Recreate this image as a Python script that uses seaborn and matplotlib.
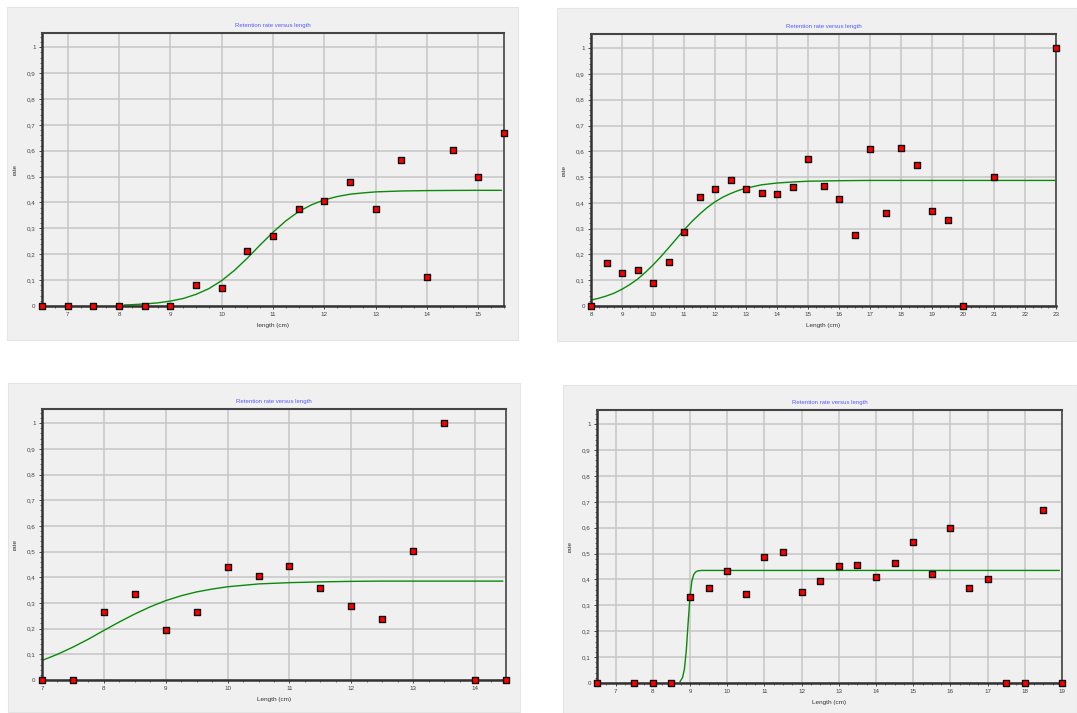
import math
import matplotlib
matplotlib.use("Agg")
import matplotlib.pyplot as plt
import seaborn as sns
from matplotlib.patches import Rectangle
from matplotlib.path import Path
from matplotlib.ticker import MultipleLocator, FuncFormatter, FixedLocator

sns.set_style("ticks")
plt.rcParams['font.family'] = ['Liberation Sans', 'DejaVu Sans']

TITLE = "Retention rate versus length"

# ---------------- Panel 1 (top-left) ----------------
p1_len = [6.5, 7, 7.5, 8, 8.5, 9, 9.5, 10, 10.5, 11, 11.5, 12, 12.5, 13, 13.5, 14, 14.5, 15, 15.5]
p1_rate = [0, 0, 0, 0, 0, 0, 0.080, 0.071, 0.214, 0.269, 0.376, 0.404, 0.481, 0.373,
           0.566, 0.112, 0.601, 0.500, 0.668]
p1_fit_len = [8.1, 8.25, 8.5, 8.75, 9.0, 9.25, 9.5, 9.75, 10.0, 10.25, 10.5, 10.75, 11.0,
              11.25, 11.5, 11.75, 12.0, 12.25, 12.5, 12.75, 13.0, 13.5, 14.0, 14.5, 15.0, 15.45]
p1_fit_rate = [0.004, 0.005, 0.008, 0.012, 0.019, 0.029, 0.045, 0.067, 0.098, 0.138, 0.185,
               0.236, 0.285, 0.329, 0.365, 0.391, 0.410, 0.423, 0.432, 0.437, 0.441, 0.4445,
               0.446, 0.4466, 0.447, 0.447]
p1_xlabel = "length (cm)"

# ---------------- Panel 2 (top-right) ----------------
p2_len = [8, 8.5, 9, 9.5, 10, 10.5, 11, 11.5, 12, 12.5, 13, 13.5, 14, 14.5, 15, 15.5, 16,
          16.5, 17, 17.5, 18, 18.5, 19, 19.5, 20, 21, 23]
p2_rate = [0, 0.168, 0.129, 0.141, 0.090, 0.172, 0.286, 0.424, 0.452, 0.490, 0.455, 0.437,
           0.434, 0.463, 0.572, 0.465, 0.416, 0.275, 0.609, 0.359, 0.614, 0.547, 0.367,
           0.335, 0, 0.501, 1.0]
p2_fit_len = [8.0, 8.25, 8.5, 8.75, 9.0, 9.25, 9.5, 9.75, 10.0, 10.25, 10.5, 10.75, 11.0,
              11.25, 11.5, 11.75, 12.0, 12.25, 12.5, 12.75, 13.0, 13.5, 14.0, 14.5, 15.0,
              16.0, 17.0, 22.96]
p2_fit_rate = [0.023, 0.030, 0.039, 0.050, 0.065, 0.083, 0.104, 0.130, 0.159, 0.191, 0.225,
               0.260, 0.295, 0.327, 0.356, 0.382, 0.404, 0.422, 0.436, 0.448, 0.457, 0.470,
               0.477, 0.481, 0.484, 0.486, 0.487, 0.487]
p2_xlabel = "Length (cm)"

# ---------------- Panel 3 (bottom-left) ----------------
p3_len = [7, 7.5, 8, 8.5, 9, 9.5, 10, 10.5, 11, 11.5, 12, 12.5, 13, 13.5, 14, 14.5]
p3_rate = [0, 0, 0.266, 0.335, 0.194, 0.266, 0.438, 0.404, 0.444, 0.358, 0.287, 0.238,
           0.501, 1.0, 0, 0]
p3_fit_len = [7.0, 7.25, 7.5, 7.75, 8.0, 8.25, 8.5, 8.75, 9.0, 9.25, 9.5, 9.75, 10.0, 10.5,
              11.0, 11.5, 12.0, 12.5, 14.45]
p3_fit_rate = [0.076, 0.100, 0.128, 0.159, 0.193, 0.226, 0.257, 0.285, 0.309, 0.328, 0.343,
               0.354, 0.363, 0.374, 0.379, 0.382, 0.384, 0.385, 0.385]
p3_xlabel = "Length (cm)"

# ---------------- Panel 4 (bottom-right) ----------------
p4_len = [6.5, 7.5, 8, 8.5, 9, 9.5, 10, 10.5, 11, 11.5, 12, 12.5, 13, 13.5, 14, 14.5, 15,
          15.5, 16, 16.5, 17, 17.5, 18, 18.5, 19]
p4_rate = [0, 0, 0, 0, 0.334, 0.369, 0.431, 0.343, 0.486, 0.505, 0.352, 0.395, 0.452, 0.457,
           0.410, 0.463, 0.546, 0.422, 0.600, 0.366, 0.403, 0, 0, 0.668, 0]
p4_fit_len = [8.73, 8.8, 8.85, 8.9, 8.95, 9.0, 9.05, 9.1, 9.15, 9.2, 9.3, 18.93]
p4_fit_rate = [0.005, 0.021, 0.054, 0.125, 0.233, 0.334, 0.394, 0.419, 0.429, 0.433, 0.435,
               0.435]
p4_xlabel = "Length (cm)"

W, H = 1077, 713
fig = plt.figure(figsize=(W / 100, H / 100), dpi=100, facecolor="white")

panels = [
    dict(bg=(7, 7, 518, 340), ax=(42, 33, 504, 306), xlim=(6.5, 15.5),
         x=p1_len, y=p1_rate, fx=p1_fit_len, fy=p1_fit_rate, xlabel=p1_xlabel),
    dict(bg=(557, 8, 1077, 341), ax=(591, 34, 1056, 306), xlim=(8, 23),
         x=p2_len, y=p2_rate, fx=p2_fit_len, fy=p2_fit_rate, xlabel=p2_xlabel),
    dict(bg=(8, 383, 520, 712), ax=(42, 409, 506, 680), xlim=(7, 14.5),
         x=p3_len, y=p3_rate, fx=p3_fit_len, fy=p3_fit_rate, xlabel=p3_xlabel),
    dict(bg=(563, 385, 1077, 713), ax=(597, 410, 1062, 683), xlim=(6.5, 19),
         x=p4_len, y=p4_rate, fx=p4_fit_len, fy=p4_fit_rate, xlabel=p4_xlabel),
]

# slightly taller-than-wide square marker
rect_marker = Path([(-0.8, -1), (0.8, -1), (0.8, 1), (-0.8, 1), (-0.8, -1)],
                   [Path.MOVETO, Path.LINETO, Path.LINETO, Path.LINETO, Path.CLOSEPOLY])


def yfmt(v, pos):
    if abs(v) < 1e-9:
        return "0"
    if abs(v - 1) < 1e-9:
        return "1"
    return f"{v:.1f}".replace(".", ",")


for p in panels:
    bx0, by0, bx1, by1 = p["bg"]
    fig.patches.append(Rectangle((bx0 / W, 1 - by1 / H), (bx1 - bx0) / W, (by1 - by0) / H,
                                 transform=fig.transFigure, facecolor="#f0f0f0",
                                 edgecolor="#e4e4e4", lw=0.8, zorder=-5))
    ax0, ay0, ax1, ay1 = p["ax"]
    ax = fig.add_axes([ax0 / W, 1 - ay1 / H, (ax1 - ax0) / W, (ay1 - ay0) / H])
    ax.set_zorder(2)
    ax.set_facecolor("#f0f0f0")
    ax.set_axisbelow(True)

    sns.lineplot(x=p["fx"], y=p["fy"], ax=ax, color="#0a8a0a", lw=1.0,
                 sort=False, estimator=None, zorder=2)
    sns.scatterplot(x=p["x"], y=p["y"], ax=ax, marker=rect_marker, s=24, color="#ff0000",
                    edgecolor="#101010", linewidth=1.0, zorder=4, clip_on=False)

    x0, x1 = p["xlim"]
    ax.set_xlim(x0, x1)
    ax.set_ylim(0, 1.055)
    ax.xaxis.set_major_locator(FixedLocator(list(range(math.ceil(x0), math.floor(x1) + 1))))
    ax.xaxis.set_minor_locator(MultipleLocator(0.25))
    ax.yaxis.set_major_locator(FixedLocator([i / 10 for i in range(11)]))
    ax.yaxis.set_minor_locator(MultipleLocator(0.02))
    ax.yaxis.set_major_formatter(FuncFormatter(yfmt))

    ax.grid(True, which="major", color="#c6c6c6", lw=1.1)
    ax.tick_params(axis="both", which="major", length=2.5, width=0.7, colors="#444444",
                   labelsize=4.5, pad=2)
    ax.tick_params(axis="both", which="minor", length=1.5, width=0.6, colors="#555555")

    for side in ["left", "bottom"]:
        ax.spines[side].set_linewidth(1.8)
        ax.spines[side].set_color("#333333")
    ax.spines["top"].set_linewidth(1.5)
    ax.spines["top"].set_color("#444444")
    ax.spines["right"].set_linewidth(1.2)
    ax.spines["right"].set_color("#444444")

    ax.set_title(TITLE, color="#5858ff", fontsize=4.3, pad=4)
    ax.set_xlabel(p["xlabel"], fontsize=4.6, color="#333333", labelpad=4)
    ax.set_ylabel("rate", fontsize=4.6, color="#333333", labelpad=7)

fig.savefig("out.png", dpi=100, facecolor="white")
